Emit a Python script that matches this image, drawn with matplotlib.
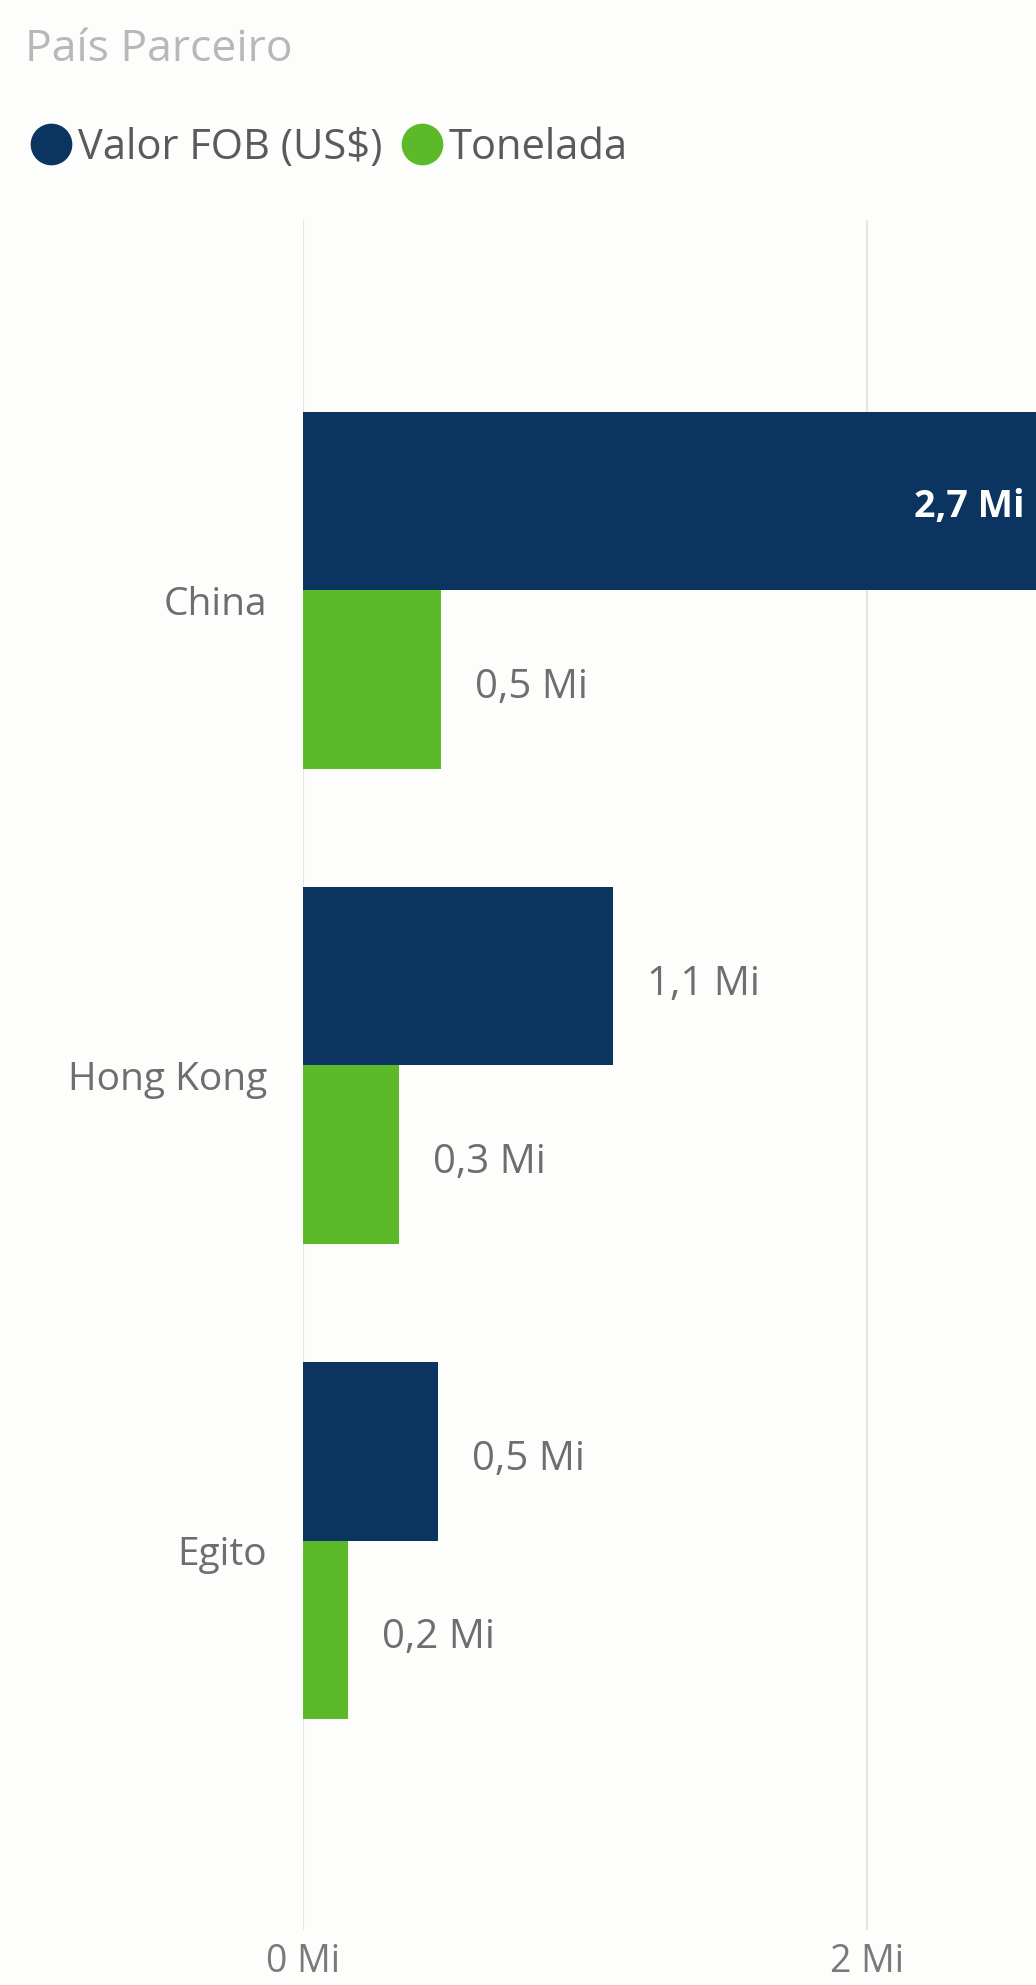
import matplotlib
matplotlib.use("Agg")
import matplotlib.pyplot as plt
from matplotlib.lines import Line2D
from matplotlib.transforms import ScaledTranslation
import numpy as np

# ---- data ----
categories = ["China", "Hong Kong", "Egito"]
valor_fob = [2.72, 1.10, 0.48]      # Mi
tonelada = [0.49, 0.34, 0.16]       # Mi
series_names = ["Valor FOB (US$)", "Tonelada"]
xticks = [0, 2]
xtick_labels = ["0 Mi", "2 Mi"]
title = "País Parceiro"

NAVY = "#0B3560"
GREEN = "#5CB92A"
BG = "#FDFDFB"
GREY = "#6E6E6E"
GRID = "#E6E6E4"

plt.rcParams["font.family"] = ["Open Sans", "DejaVu Sans"]

W, H = 1036, 1985
fig = plt.figure(figsize=(W / 100, H / 100), dpi=100, facecolor=BG)

left = 303 / W
top = 220 / H
bottom = 1930 / H
ax = fig.add_axes([left, 1 - bottom, 1.0 - left, bottom - top], facecolor=BG)

y = np.arange(len(categories))
bh = 0.375
ax.barh(y - bh / 2, valor_fob, height=bh, color=NAVY, zorder=3)
ax.barh(y + bh / 2, tonelada, height=bh, color=GREEN, zorder=3)

ax.set_xlim(0, 2.6)
ax.set_ylim(2.82, -0.78)

ax.set_xticks(xticks)
ax.set_xticklabels(xtick_labels, fontsize=27, color="#7A7A7A")
ax.tick_params(axis="x", length=0, pad=9)
ax.set_yticks(y)
ax.set_yticklabels(categories, fontsize=28, color=GREY)
ax.tick_params(axis="y", length=0, pad=26)
for lab in ax.get_yticklabels():
    lab.set_transform(lab.get_transform() + ScaledTranslation(0, -0.10, fig.dpi_scale_trans))

ax.grid(axis="x", color=GRID, linewidth=1.5, zorder=0)
ax.grid(axis="y", visible=False)
for s in ax.spines.values():
    s.set_visible(False)

def fmt(v):
    return f"{v:.1f}".replace(".", ",") + " Mi"

xmax = ax.get_xlim()[1]
for vals, off in ((valor_fob, -bh / 2), (tonelada, bh / 2)):
    for i, v in enumerate(vals):
        yy = i + off
        if v > xmax * 0.9:
            t = ax.text(v, yy, fmt(v), ha="right", va="center", color="white",
                        fontsize=27, fontweight="bold", zorder=4, clip_on=False)
            t.set_transform(ax.transData + ScaledTranslation(-0.45, -0.06, fig.dpi_scale_trans))
        else:
            t = ax.text(v, yy, fmt(v), ha="left", va="center", color=GREY,
                        fontsize=29, zorder=4)
            t.set_transform(ax.transData + ScaledTranslation(0.34, -0.08, fig.dpi_scale_trans))

fig.text(25 / W, 1 - 50 / H, title, fontsize=32, color="#B8B8B8", ha="left", va="center")

handles = [Line2D([], [], marker="o", linestyle="none", markersize=29, color=c)
           for c in (NAVY, GREEN)]
fig.legend(handles, series_names, loc="center left", bbox_to_anchor=(-12 / W, 1 - 148 / H),
           ncol=2, frameon=False, fontsize=30, handletextpad=0.05, columnspacing=0.35,
           labelcolor="#5A5A5A", handlelength=1.2)

fig.savefig("out.png", dpi=100, facecolor=BG)
